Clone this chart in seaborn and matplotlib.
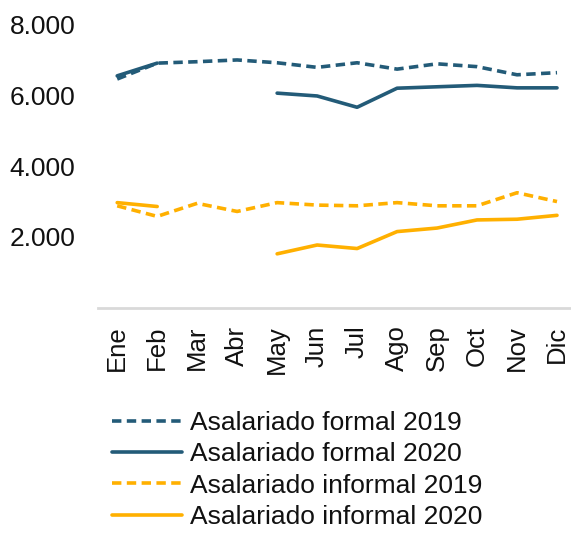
import numpy as np
import pandas as pd
import matplotlib
matplotlib.use("Agg")
import matplotlib.pyplot as plt
import seaborn as sns

# Datos
meses = ['Ene', 'Feb', 'Mar', 'Abr', 'May', 'Jun', 'Jul', 'Ago', 'Sep', 'Oct', 'Nov', 'Dic']
formal_2019 = [6470, 6920, 6960, 7010, 6930, 6800, 6930, 6750, 6900, 6820, 6590, 6650]
formal_2020 = [6560, 6920, None, None, 6070, 5990, 5670, 6210, 6250, 6290, 6220, 6220]
informal_2019 = [2880, 2580, 2950, 2720, 2970, 2900, 2880, 2970, 2880, 2880, 3250, 3000]
informal_2020 = [2970, 2860, None, None, 1520, 1770, 1670, 2150, 2250, 2480, 2500, 2610]

series = {
    'Asalariado formal 2019': formal_2019,
    'Asalariado formal 2020': formal_2020,
    'Asalariado informal 2019': informal_2019,
    'Asalariado informal 2020': informal_2020,
}

AZUL = '#235b78'
AMARILLO = '#ffb000'
colores = {
    'Asalariado formal 2019': AZUL,
    'Asalariado formal 2020': AZUL,
    'Asalariado informal 2019': AMARILLO,
    'Asalariado informal 2020': AMARILLO,
}
trazos = {
    'Asalariado formal 2019': (2.6, 1.5),
    'Asalariado formal 2020': '',
    'Asalariado informal 2019': (2.6, 1.5),
    'Asalariado informal 2020': '',
}


def armar_tabla():
    """Tabla larga; cada tramo continuo lleva su propia unidad"""
    filas = []
    for nombre, valores in series.items():
        tramo = 0
        for i, v in enumerate(valores):
            if v is None:
                tramo += 1
                continue
            filas.append({'pos': i, 'valor': v, 'serie': nombre,
                          'tramo': f'{nombre}-{tramo}'})
    return pd.DataFrame(filas)


sns.set_style("white")
plt.rcParams['font.family'] = ['Liberation Sans', 'DejaVu Sans']

df = armar_tabla()

fig = plt.figure(figsize=(5.71, 5.35), dpi=100)
ax = fig.add_axes([0.172, 0.4252, 0.828, 0.5281])

sns.lineplot(data=df, x='pos', y='valor', hue='serie', style='serie',
             units='tramo', estimator=None, palette=colores, dashes=trazos,
             hue_order=list(series), style_order=list(series),
             linewidth=2.6, ax=ax)

ax.set_ylim(0, 8000)
ax.set_xlim(-0.475, 11.35)
ax.set_yticks([2000, 4000, 6000, 8000])
ax.set_yticklabels(['2.000', '4.000', '6.000', '8.000'])
ax.set_xticks(range(len(meses)))
ax.set_xticklabels(meses, rotation=90)
ax.tick_params(axis='y', length=0, pad=16.5, labelsize=19, labelcolor='#111111')
ax.tick_params(axis='x', length=0, pad=13, labelsize=18.5, labelcolor='#111111')
ax.set_xlabel('')
ax.set_ylabel('')

for lado in ['top', 'right', 'left']:
    ax.spines[lado].set_visible(False)
ax.spines['bottom'].set_color('#d9d9d9')
ax.spines['bottom'].set_linewidth(2)

sns.move_legend(ax, loc='upper left', bbox_to_anchor=(0.196, 0.232),
                bbox_transform=fig.transFigure, frameon=False, title=None,
                fontsize=19, handlelength=2.65, handletextpad=0.3,
                labelspacing=0.28, borderpad=0, borderaxespad=0,
                labelcolor='#111111')

fig.savefig('out.png', dpi=100)
